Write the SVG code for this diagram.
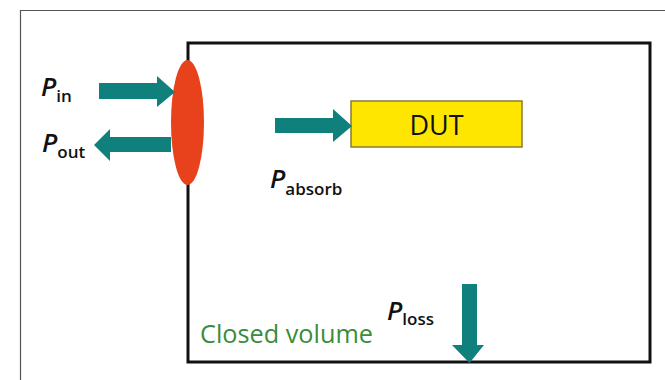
<svg xmlns="http://www.w3.org/2000/svg" width="665" height="380" viewBox="0 0 665 380">
<defs>
<style>
.arrow{fill:#10807d}
.P{font-family:"Open Sans","Liberation Sans",sans-serif;font-style:italic;font-weight:600;fill:#111}
.sub{font-family:"Open Sans","Liberation Sans",sans-serif;font-weight:600;fill:#111}
</style>
</defs>
<rect width="665" height="380" fill="#fff"/>
<path d="M20.5 380V10.5H665" fill="none" stroke="#555" stroke-width="1.2"/>
<g id="volume">
<rect x="188" y="43" width="462" height="319" fill="#fff" stroke="#111" stroke-width="3"/>
<text x="200" y="343" font-family="Open Sans,Liberation Sans,sans-serif" font-size="26" fill="#3a8c3a" textLength="173" lengthAdjust="spacingAndGlyphs">Closed volume</text>
</g>
<g id="dut">
<rect x="351" y="101" width="171" height="46" fill="#ffe600" stroke="#8a7a30" stroke-width="1.5"/>
<text x="436.5" y="135" text-anchor="middle" font-family="Open Sans,Liberation Sans,sans-serif" font-size="27" fill="#111">DUT</text>
</g>
<g id="port">
<ellipse cx="187.5" cy="122.5" rx="16.5" ry="62.5" fill="#e8421c"/>
</g>
<g id="connectors">
<polygon class="arrow" points="99,83 157,83 157,76 175,92 157,107 157,99 99,99"/>
<polygon class="arrow" points="171,137 110,137 110,129 94,145 110,161 110,152 171,152"/>
<polygon class="arrow" points="275,118 333,118 333,109 352,126 333,142 333,133 275,133"/>
<polygon class="arrow" points="462,284 477,284 477,345 484,345 469.5,363 452,345 462,345"/>
</g>
<g id="labels">
<text x="41" y="96"><tspan class="P" font-size="26">P</tspan><tspan class="sub" font-size="17" dy="6">in</tspan></text>
<text x="42" y="152"><tspan class="P" font-size="26">P</tspan><tspan class="sub" font-size="17" dy="6">out</tspan></text>
<text x="270" y="188"><tspan class="P" font-size="26">P</tspan><tspan class="sub" font-size="17" dy="7">absorb</tspan></text>
<text x="387" y="320"><tspan class="P" font-size="26">P</tspan><tspan class="sub" font-size="17" dy="5">loss</tspan></text>
</g>
</svg>
